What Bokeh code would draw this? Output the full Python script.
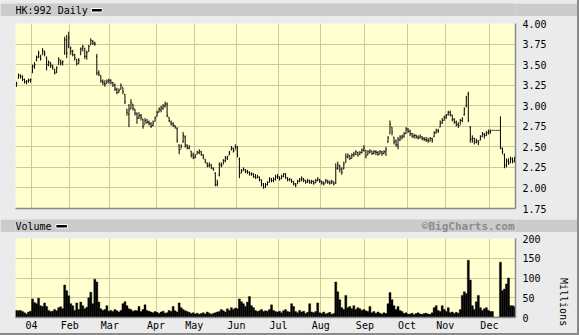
import math
from bokeh.plotting import figure
from bokeh.layouts import column
from bokeh.models import Range1d, FixedTicker, PrintfTickFormatter, Spacer, Label
from bokeh.embed import file_html
from bokeh.resources import INLINE

# ---------------- data (HK:992, daily, 12/17/03 - 12/17/04) ----------------
title_text = "HK:992 Daily"
date_text = "12/17/04"
month_ticks = [8, 27, 47, 70, 89, 110, 131, 152, 174, 195, 214, 236]
month_labels = ["04", "Feb", "Mar", "Apr", "May", "Jun", "Jul", "Aug", "Sep", "Oct", "Nov", "Dec"]
price_ticks = [1.75, 2.00, 2.25, 2.50, 2.75, 3.00, 3.25, 3.50, 3.75, 4.00]
volume_ticks = [0, 50, 100, 150, 200]

low = [
    3.23, 3.33, 3.33, 3.30, 3.27, 3.26, 3.28, 3.28, 3.40, 3.45,
    3.54, 3.58, 3.55, 3.62, 3.60, 3.43, 3.48, 3.46, 3.44, 3.38,
    3.40, 3.50, 3.49, 3.49, 3.62, 3.58, 3.70, 3.62, 3.60, 3.55,
    3.49, 3.51, 3.62, 3.66, 3.57, 3.56, 3.66, 3.74, 3.74, 3.73,
    3.37, 3.36, 3.28, 3.25, 3.23, 3.27, 3.27, 3.26, 3.23, 3.18,
    3.14, 3.16, 3.20, 3.14, 3.02, 2.88, 2.74, 2.96, 2.94, 2.88,
    2.78, 2.84, 2.82, 2.72, 2.78, 2.78, 2.76, 2.73, 2.75, 2.81,
    2.87, 2.92, 2.92, 2.95, 2.98, 2.86, 2.80, 2.76, 2.74, 2.72,
    2.55, 2.41, 2.48, 2.55, 2.49, 2.47, 2.47, 2.37, 2.35, 2.36,
    2.41, 2.41, 2.39, 2.35, 2.30, 2.25, 2.25, 2.23, 2.21, 2.02,
    2.02, 2.14, 2.25, 2.29, 2.31, 2.34, 2.40, 2.46, 2.43, 2.47,
    2.37, 2.12, 2.18, 2.21, 2.18, 2.17, 2.15, 2.15, 2.12, 2.11,
    2.12, 2.08, 2.02, 1.99, 2.00, 2.03, 2.07, 2.07, 2.07, 2.09,
    2.11, 2.09, 2.11, 2.13, 2.11, 2.08, 2.08, 2.06, 2.03, 2.01,
    2.05, 2.07, 2.08, 2.07, 2.05, 2.06, 2.05, 2.05, 2.04, 2.06,
    2.08, 2.06, 2.04, 2.03, 2.06, 2.05, 2.04, 2.05, 2.03, 2.05,
    2.22, 2.19, 2.16, 2.23, 2.31, 2.36, 2.34, 2.36, 2.38, 2.40,
    2.38, 2.40, 2.42, 2.44, 2.36, 2.40, 2.42, 2.40, 2.41, 2.40,
    2.39, 2.41, 2.39, 2.41, 2.39, 2.55, 2.66, 2.64, 2.53, 2.50,
    2.47, 2.57, 2.59, 2.61, 2.66, 2.67, 2.63, 2.61, 2.60, 2.60,
    2.59, 2.60, 2.58, 2.57, 2.56, 2.55, 2.57, 2.55, 2.62, 2.66,
    2.67, 2.74, 2.78, 2.82, 2.84, 2.88, 2.87, 2.81, 2.78, 2.75,
    2.73, 2.77, 2.80, 2.88, 2.98, 2.80, 2.55, 2.55, 2.53, 2.54,
    2.52, 2.58, 2.62, 2.60, 2.63, 2.65, 2.66, 2.70, 2.70, 2.70,
    2.70, 2.47, 2.41, 2.24, 2.25, 2.28, 2.30, 2.30, 2.31,
]
high = [
    3.29, 3.39, 3.38, 3.37, 3.33, 3.31, 3.33, 3.33, 3.50, 3.53,
    3.61, 3.67, 3.62, 3.70, 3.67, 3.60, 3.55, 3.53, 3.50, 3.45,
    3.48, 3.59, 3.56, 3.55, 3.84, 3.86, 3.90, 3.72, 3.68, 3.63,
    3.57, 3.58, 3.71, 3.74, 3.70, 3.67, 3.74, 3.82, 3.80, 3.78,
    3.63, 3.43, 3.37, 3.32, 3.31, 3.32, 3.33, 3.32, 3.29, 3.27,
    3.22, 3.21, 3.27, 3.22, 3.14, 2.96, 3.02, 3.08, 3.02, 2.96,
    2.92, 2.92, 2.90, 2.84, 2.85, 2.84, 2.82, 2.80, 2.82, 2.87,
    2.94, 2.98, 3.00, 3.02, 3.05, 3.04, 2.86, 2.82, 2.80, 2.76,
    2.74, 2.53, 2.53, 2.68, 2.64, 2.53, 2.52, 2.45, 2.43, 2.41,
    2.45, 2.47, 2.45, 2.41, 2.35, 2.31, 2.31, 2.29, 2.25, 2.19,
    2.10, 2.31, 2.31, 2.35, 2.39, 2.39, 2.45, 2.51, 2.49, 2.53,
    2.51, 2.37, 2.23, 2.25, 2.23, 2.22, 2.20, 2.19, 2.18, 2.17,
    2.16, 2.14, 2.10, 2.06, 2.06, 2.08, 2.13, 2.12, 2.13, 2.16,
    2.17, 2.14, 2.16, 2.18, 2.18, 2.13, 2.12, 2.11, 2.08, 2.06,
    2.10, 2.12, 2.14, 2.12, 2.10, 2.11, 2.10, 2.10, 2.09, 2.11,
    2.13, 2.11, 2.09, 2.08, 2.11, 2.10, 2.09, 2.10, 2.08, 2.30,
    2.32, 2.28, 2.25, 2.32, 2.42, 2.42, 2.40, 2.42, 2.44, 2.46,
    2.44, 2.45, 2.48, 2.52, 2.46, 2.46, 2.47, 2.45, 2.46, 2.46,
    2.45, 2.46, 2.45, 2.46, 2.50, 2.63, 2.82, 2.74, 2.62, 2.59,
    2.62, 2.64, 2.65, 2.68, 2.74, 2.73, 2.71, 2.67, 2.66, 2.65,
    2.64, 2.65, 2.63, 2.62, 2.62, 2.61, 2.62, 2.61, 2.69, 2.72,
    2.72, 2.82, 2.85, 2.88, 2.90, 2.94, 2.94, 2.89, 2.85, 2.82,
    2.80, 2.84, 2.86, 2.98, 3.12, 3.17, 2.75, 2.64, 2.61, 2.60,
    2.58, 2.64, 2.68, 2.67, 2.69, 2.71, 2.71, 2.70, 2.70, 2.70,
    2.70, 2.87, 2.49, 2.42, 2.36, 2.36, 2.38, 2.37, 2.38,
]
open_ = [
    3.25, 3.34, 3.37, 3.35, 3.32, 3.29, 3.30, 3.31, 3.40, 3.48,
    3.55, 3.59, 3.60, 3.62, 3.65, 3.58, 3.50, 3.52, 3.48, 3.44,
    3.40, 3.50, 3.54, 3.52, 3.64, 3.80, 3.72, 3.70, 3.66, 3.62,
    3.56, 3.51, 3.62, 3.70, 3.70, 3.60, 3.66, 3.74, 3.78, 3.76,
    3.60, 3.40, 3.36, 3.30, 3.27, 3.27, 3.29, 3.31, 3.28, 3.25,
    3.20, 3.16, 3.20, 3.22, 3.14, 2.96, 2.90, 2.96, 3.02, 2.96,
    2.90, 2.85, 2.88, 2.84, 2.77, 2.80, 2.80, 2.78, 2.76, 2.81,
    2.87, 2.92, 2.95, 2.97, 2.99, 3.02, 2.86, 2.80, 2.78, 2.76,
    2.72, 2.52, 2.47, 2.56, 2.62, 2.52, 2.48, 2.45, 2.40, 2.37,
    2.41, 2.43, 2.44, 2.40, 2.35, 2.30, 2.27, 2.28, 2.24, 2.18,
    2.04, 2.16, 2.28, 2.28, 2.33, 2.36, 2.40, 2.46, 2.48, 2.46,
    2.50, 2.35, 2.18, 2.21, 2.22, 2.20, 2.19, 2.17, 2.17, 2.14,
    2.12, 2.13, 2.10, 2.05, 2.01, 2.04, 2.07, 2.10, 2.09, 2.10,
    2.13, 2.13, 2.11, 2.14, 2.17, 2.12, 2.10, 2.10, 2.08, 2.05,
    2.05, 2.08, 2.10, 2.11, 2.09, 2.07, 2.08, 2.06, 2.08, 2.06,
    2.09, 2.10, 2.08, 2.06, 2.06, 2.08, 2.07, 2.06, 2.07, 2.06,
    2.24, 2.27, 2.23, 2.23, 2.31, 2.37, 2.39, 2.36, 2.40, 2.41,
    2.43, 2.41, 2.43, 2.46, 2.46, 2.40, 2.43, 2.45, 2.42, 2.44,
    2.43, 2.41, 2.44, 2.42, 2.44, 2.56, 2.66, 2.74, 2.62, 2.57,
    2.52, 2.58, 2.61, 2.63, 2.66, 2.71, 2.69, 2.66, 2.63, 2.64,
    2.62, 2.61, 2.62, 2.60, 2.59, 2.58, 2.57, 2.60, 2.62, 2.67,
    2.69, 2.74, 2.79, 2.82, 2.86, 2.89, 2.92, 2.89, 2.83, 2.80,
    2.77, 2.76, 2.82, 2.89, 3.00, 3.14, 2.74, 2.59, 2.60, 2.56,
    2.57, 2.58, 2.62, 2.65, 2.64, 2.67, 2.68, 2.70, 2.70, 2.70,
    2.70, 2.70, 2.48, 2.40, 2.27, 2.32, 2.31, 2.35, 2.33,
]
close = [
    3.27, 3.37, 3.35, 3.32, 3.29, 3.30, 3.31, 3.32, 3.48, 3.50,
    3.59, 3.64, 3.57, 3.67, 3.63, 3.50, 3.53, 3.49, 3.46, 3.40,
    3.46, 3.56, 3.52, 3.54, 3.80, 3.64, 3.82, 3.66, 3.62, 3.58,
    3.51, 3.55, 3.69, 3.72, 3.60, 3.65, 3.72, 3.79, 3.76, 3.75,
    3.40, 3.38, 3.30, 3.28, 3.26, 3.30, 3.31, 3.28, 3.25, 3.20,
    3.16, 3.19, 3.24, 3.17, 3.05, 2.92, 2.95, 3.04, 2.97, 2.91,
    2.85, 2.88, 2.86, 2.75, 2.82, 2.80, 2.78, 2.75, 2.79, 2.85,
    2.92, 2.96, 2.98, 3.00, 3.02, 2.88, 2.82, 2.78, 2.76, 2.74,
    2.58, 2.46, 2.51, 2.64, 2.52, 2.49, 2.50, 2.40, 2.37, 2.39,
    2.44, 2.45, 2.41, 2.37, 2.32, 2.27, 2.29, 2.25, 2.22, 2.04,
    2.06, 2.29, 2.27, 2.33, 2.37, 2.38, 2.43, 2.49, 2.45, 2.50,
    2.40, 2.18, 2.21, 2.23, 2.20, 2.19, 2.17, 2.16, 2.14, 2.13,
    2.14, 2.10, 2.04, 2.01, 2.04, 2.07, 2.11, 2.09, 2.11, 2.14,
    2.14, 2.11, 2.14, 2.17, 2.13, 2.10, 2.11, 2.08, 2.05, 2.03,
    2.08, 2.10, 2.12, 2.09, 2.07, 2.09, 2.07, 2.08, 2.06, 2.09,
    2.11, 2.08, 2.06, 2.05, 2.09, 2.07, 2.06, 2.08, 2.05, 2.24,
    2.28, 2.23, 2.19, 2.29, 2.38, 2.40, 2.36, 2.40, 2.41, 2.44,
    2.40, 2.43, 2.46, 2.49, 2.39, 2.44, 2.45, 2.42, 2.44, 2.43,
    2.41, 2.44, 2.42, 2.44, 2.47, 2.61, 2.77, 2.68, 2.56, 2.53,
    2.59, 2.62, 2.63, 2.66, 2.72, 2.69, 2.66, 2.63, 2.64, 2.62,
    2.61, 2.63, 2.60, 2.59, 2.58, 2.57, 2.60, 2.58, 2.67, 2.70,
    2.70, 2.79, 2.82, 2.86, 2.88, 2.92, 2.89, 2.83, 2.80, 2.77,
    2.75, 2.82, 2.84, 2.96, 3.10, 2.82, 2.60, 2.61, 2.56, 2.58,
    2.55, 2.63, 2.66, 2.64, 2.67, 2.69, 2.70, 2.70, 2.70, 2.70,
    2.70, 2.50, 2.44, 2.28, 2.33, 2.30, 2.36, 2.32, 2.35,
]
volume = [  # millions of shares
    18, 17, 18, 15, 12, 9, 14, 16, 47, 38,
    35, 49, 30, 28, 37, 28, 18, 15, 16, 20,
    17, 25, 27, 22, 82, 68, 55, 35, 30, 18,
    37, 20, 39, 30, 22, 26, 50, 64, 35, 97,
    90, 39, 22, 18, 20, 30, 16, 18, 15, 20,
    17, 14, 18, 35, 40, 30, 22, 20, 16, 18,
    17, 28, 15, 20, 32, 18, 16, 14, 12, 15,
    13, 10, 14, 16, 11, 12, 18, 15, 28, 17,
    14, 37, 25, 20, 17, 15, 13, 10, 12, 9,
    11, 8, 10, 12, 9, 14, 11, 8, 10, 12,
    14, 15, 20, 17, 14, 22, 18, 25, 20, 24,
    22, 47, 40, 35, 28, 39, 53, 30, 25, 18,
    15, 17, 20, 15, 17, 16, 20, 32, 18, 15,
    14, 16, 12, 17, 20, 15, 14, 35, 28, 15,
    12, 18, 14, 16, 10, 13, 35, 14, 12, 15,
    37, 12, 10, 14, 9, 11, 13, 8, 10, 90,
    65, 45, 25, 20, 56, 25, 28, 22, 30, 20,
    25, 22, 18, 20, 17, 15, 28, 12, 15, 10,
    14, 11, 9, 12, 10, 35, 63, 45, 30, 20,
    28, 18, 15, 10, 12, 8, 9, 11, 7, 10,
    12, 9, 8, 10, 11, 9, 8, 12, 25, 30,
    18, 15, 30, 20, 15, 25, 12, 14, 10, 13,
    11, 20, 56, 65, 60, 145, 95, 30, 20, 40,
    56, 25, 18, 22, 25, 18, 15, 15, 1, 1,
    1, 140, 68, 72, 85, 100, 30, 30, 28,
]

n = len(close)
assert len(low) == n and len(high) == n and len(open_) == n and len(volume) == n, (
    len(low), len(high), len(open_), len(close), len(volume))

# ---------------- style ----------------
MONO = "DejaVu Sans Mono"
BG = "#ebebeb"
BAND = "#cbcbcb"
YEL = "#ffffd0"
GRID = "#cbcb99"
EDGE = "#8a8a8a"
W = 577
FL, FR = 15, 61          # frame borders shared by every figure (frame = page x 15..516)

xc = [i + 0.5 for i in range(n)]
xl = [i + 0.1 for i in range(n)]
xr = [i + 0.9 for i in range(n)]


def band(y_top, y_bot):
    # whole canvas painted as the grey band; data coordinates equal page pixels
    b = figure(width=W, height=y_bot - y_top, x_range=Range1d(FL, W - FR), y_range=Range1d(y_bot, y_top),
               output_backend="svg", toolbar_location=None, tools="",
               x_axis_location=None, y_axis_location=None,
               min_border_left=FL, min_border_right=FR, min_border_top=0, min_border_bottom=0,
               background_fill_color=BAND, border_fill_color=BAND, outline_line_color=None)
    b.grid.visible = False
    return b


def band_label(fig, x, y, text, align="left", size="10px", color="black", style="normal"):
    fig.add_layout(Label(x=x, y=y, x_units="data", y_units="data", text=text,
                         text_font=MONO, text_font_size=size, text_color=color,
                         text_font_style=style, text_align=align, text_baseline="middle"))


def style_axis(ax):
    ax.major_tick_out = 0
    ax.major_tick_in = 0
    ax.minor_tick_out = 0
    ax.minor_tick_in = 0
    ax.axis_line_color = EDGE
    ax.axis_line_width = 1.5
    ax.major_label_text_font = MONO
    ax.major_label_text_font_size = "10px"
    ax.major_label_text_color = "black"


# ---- title band (page y 3..16) ----
b1 = band(3, 16)
band_label(b1, 15, 10, title_text)
b1.quad(left=[91], right=[102], top=[8], bottom=[11.5], fill_color="black", line_color="white", line_width=1)
band_label(b1, 572, 10, date_text, align="right")

# ---- price panel (page y 16..216, frame 23..208) ----
p = figure(width=W, height=200, x_range=Range1d(0, n), y_range=Range1d(1.75, 4.0),
           output_backend="svg", toolbar_location=None, tools="",
           x_axis_location="below", y_axis_location="right",
           min_border_left=FL, min_border_right=FR, min_border_top=7, min_border_bottom=8,
           background_fill_color=YEL, border_fill_color=BG, outline_line_color=None)
p.yaxis.ticker = FixedTicker(ticks=price_ticks)
p.yaxis.formatter = PrintfTickFormatter(format="%.2f")
p.xaxis.ticker = FixedTicker(ticks=[])          # bottom edge line only, no labels
for ax in p.xaxis + p.yaxis:
    style_axis(ax)
p.yaxis.major_label_standoff = 7
p.xaxis.major_label_standoff = 0
p.xgrid.ticker = FixedTicker(ticks=month_ticks)
p.grid.grid_line_color = GRID
p.grid.grid_line_width = 1

p.segment(x0=xc, y0=low, x1=xc, y1=high, line_color="black", line_width=1)
p.segment(x0=xl, y0=open_, x1=xc, y1=open_, line_color="black", line_width=1)
p.segment(x0=xc, y0=close, x1=xr, y1=close, line_color="black", line_width=1)

# ---- volume band (page y 219..232) ----
b2 = band(219, 232)
band_label(b2, 15, 225.5, "Volume")
b2.quad(left=[55.5], right=[67], top=[224], bottom=[227.5], fill_color="black", line_color="white", line_width=1)
band_label(b2, 515, 225.5, "\u00a9BigCharts.com", align="right", size="11px", color="#8c8c8c", style="bold")

# ---- volume panel (page y 232..333, frame 238..317) ----
v = figure(width=W, height=101, x_range=p.x_range, y_range=Range1d(0, 200),
           output_backend="svg", toolbar_location=None, tools="",
           x_axis_location="below", y_axis_location="right",
           min_border_left=FL, min_border_right=FR, min_border_top=6, min_border_bottom=16,
           background_fill_color=YEL, border_fill_color=BG, outline_line_color=None)
v.yaxis.ticker = FixedTicker(ticks=volume_ticks)
v.xaxis.ticker = FixedTicker(ticks=month_ticks)
v.xaxis.major_label_overrides = {t: lab for t, lab in zip(month_ticks, month_labels)}
for ax in v.xaxis + v.yaxis:
    style_axis(ax)
v.yaxis.major_label_standoff = 7
v.xaxis.major_label_standoff = 2
v.grid.grid_line_color = GRID
v.grid.grid_line_width = 1
yax = v.yaxis[0]
yax.axis_label = "Millions"
yax.axis_label_text_font = MONO
yax.axis_label_text_font_size = "10px"
yax.axis_label_text_font_style = "normal"
yax.axis_label_text_color = "black"
yax.axis_label_standoff = 20
try:
    yax.axis_label_orientation = -math.pi / 2
except Exception:
    pass

v.vbar(x=xc, top=volume, bottom=0, width=1.0, fill_color="black", line_color="black", line_width=0.4)

inner = column(Spacer(width=W, height=3), b1, p, Spacer(width=W, height=3), b2, v,
               width=W, height=333, styles={"background-color": BG})
layout = column(inner, width=579, height=335, styles={"background-color": EDGE})

with open("out.html", "w") as f:
    f.write(file_html(layout, INLINE))
